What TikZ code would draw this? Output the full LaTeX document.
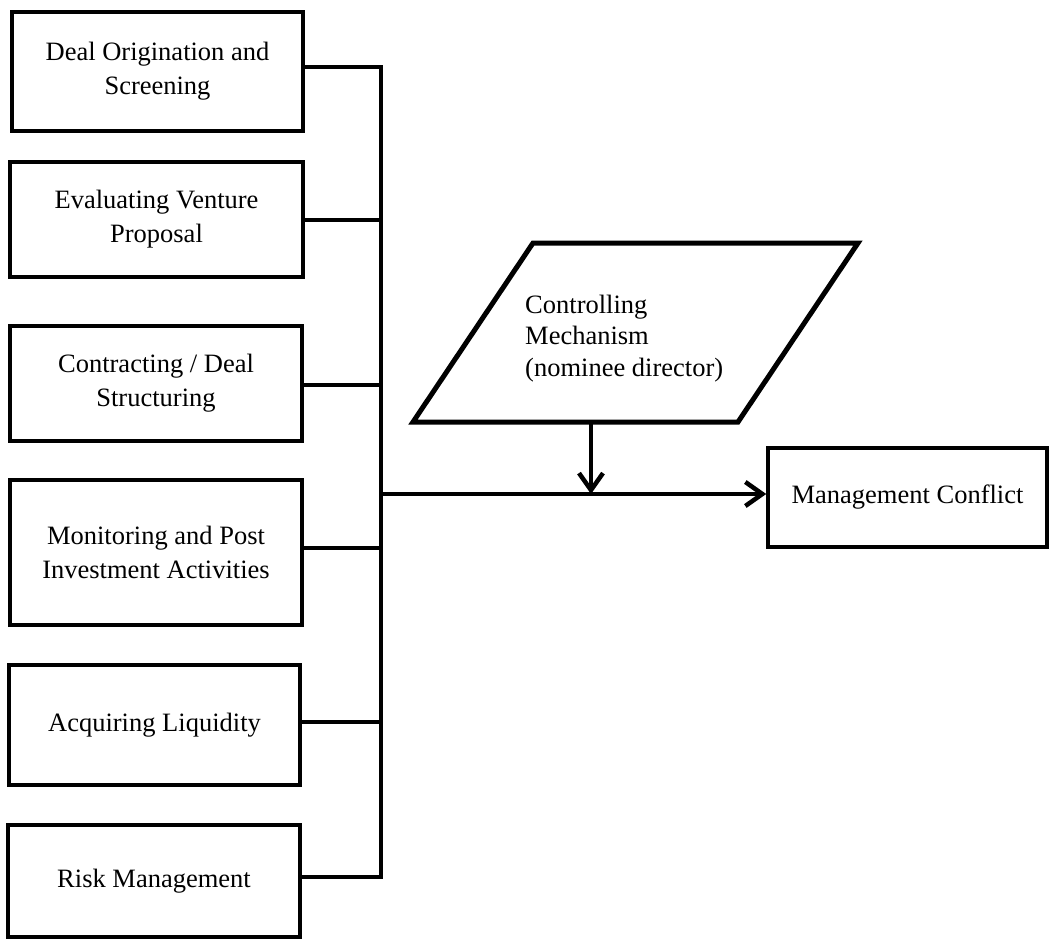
\documentclass[tikz,border=0pt]{standalone}
\usepackage{fontspec}
\setmainfont{Liberation Serif}
\usetikzlibrary{arrows.meta}
\begin{document}
\begin{tikzpicture}[x=1pt,y=-1pt,
  stagebox/.style={draw, line width=3.5pt, inner sep=0pt, align=center,
    font=\fontsize{26.5}{34}\selectfont},
  link/.style={line width=3.5pt, line join=miter},
  flow/.style={line width=3.5pt,
    -{Straight Barb[length=17pt,width=24pt,line width=4.5pt]}}]
\useasboundingbox (0,0) rectangle (1049,939);

% stages of the venture capital process
\node[stagebox, minimum width=291pt, minimum height=119pt] (b1) at (157.5,71.5) {Deal Origination and\\Screening};
\node[stagebox, minimum width=293pt, minimum height=115pt] (b2) at (156.5,219.5) {Evaluating Venture\\Proposal};
\node[stagebox, minimum width=292pt, minimum height=115pt] (b3) at (156,383.5) {Contracting / Deal\\Structuring};
\node[stagebox, minimum width=292pt, minimum height=145pt] (b4) at (156,552.5) {Monitoring and Post\\Investment Activities};
\node[stagebox, minimum width=291pt, minimum height=120pt] (b5) at (154.5,725) {Acquiring Liquidity};
\node[stagebox, minimum width=292pt, minimum height=112pt] (b6) at (154,881) {Risk Management};

% outcome
\node[stagebox, minimum width=279pt, minimum height=99pt] (mc) at (907.5,497.5) {Management Conflict};

% collecting bus
\coordinate (j1) at (381,67);
\coordinate (j2) at (381,220);
\coordinate (j3) at (381,385);
\coordinate (j4) at (381,548);
\coordinate (j5) at (381,722);
\coordinate (j6) at (381,877);
\coordinate (jm) at (381,494);
\draw[link] (b1.east |- j1) -- (j1) -- (j6) -- (b6.east |- j6);
\draw[link] (b2.east |- j2) -- (j2);
\draw[link] (b3.east |- j3) -- (j3);
\draw[link] (b4.east |- j4) -- (j4);
\draw[link] (b5.east |- j5) -- (j5);
\draw[flow] (jm) -- (mc.west |- jm);

% moderating mechanism
\draw[line width=5pt, line join=miter] (533,243) -- (858,243) -- (738,422) -- (413,422) -- cycle;
\node[anchor=north west, inner sep=0pt, align=left,
  font=\fontsize{26.5}{31.5}\selectfont] (cm) at (525,294.5)
  {Controlling\\Mechanism\\(nominee director)};
\coordinate (cmb) at (591,422);
\coordinate (cmj) at (591,494);
\draw[flow] (cmb) -- (cmj);
\end{tikzpicture}
\end{document}
